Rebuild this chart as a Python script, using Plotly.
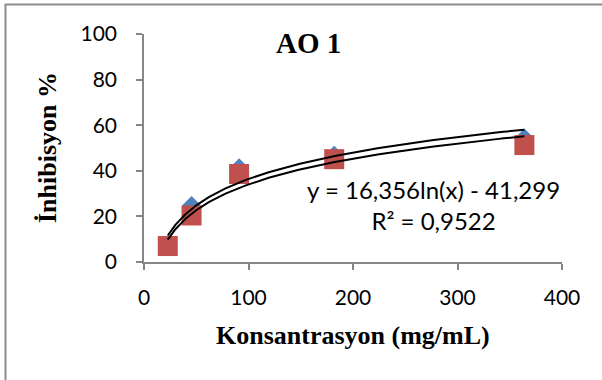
import numpy as np
import plotly.graph_objects as go

# Data
konsantrasyon = [22.75, 45.5, 91, 182, 364]
seri_mavi = [7.3, 24.7, 41.2, 46.7, 54.3]
seri_kirmizi = [7.0, 20.4, 38.6, 45.1, 51.3]
x_ticks = [0, 100, 200, 300, 400]
y_ticks = [0, 20, 40, 60, 80, 100]
chart_title = "AO 1"
x_title = "Konsantrasyon (mg/mL)"
y_title = "İnhibisyon %"
equation_text = "y = 16,356ln(x) - 41,299<br>R² = 0,9522"

BLUE = "#4F81BD"
RED = "#C0504D"
GRAY = "#868686"

# plot area in pixels
L, R, T, B = 144, 562, 34, 262
W, H = 602, 380

def px(xp):
    return (xp - L) / (R - L)

def py(yp):
    return (B - yp) / (B - T)

fig = go.Figure()
fig.add_trace(go.Scatter(x=konsantrasyon, y=seri_mavi, mode="markers",
                         marker=dict(symbol="diamond", size=15, color=BLUE),
                         showlegend=False, cliponaxis=False))
fig.add_trace(go.Scatter(x=konsantrasyon, y=seri_kirmizi, mode="markers",
                         marker=dict(symbol="square", size=20, color=RED),
                         showlegend=False, cliponaxis=False))

# logarithmic trendlines fitted to each series
xs = np.array(konsantrasyon, dtype=float)
xl = np.geomspace(xs.min(), xs.max(), 200)
for ys in (seri_mavi, seri_kirmizi):
    a, b = np.polyfit(np.log(xs), np.array(ys, dtype=float), 1)
    fig.add_trace(go.Scatter(x=xl, y=a * np.log(xl) + b, mode="lines",
                             line=dict(color="black", width=2),
                             showlegend=False, hoverinfo="skip"))

axis_common = dict(showgrid=False, zeroline=False, showline=True, linecolor=GRAY,
                   linewidth=1.5, ticks="outside", ticklen=6, tickcolor=GRAY,
                   tickwidth=1.5, tickfont=dict(family="Lato", size=21, color="black"))

fig.update_layout(
    width=W, height=H,
    margin=dict(l=L, r=W - R, t=T, b=H - B),
    paper_bgcolor="white", plot_bgcolor="white",
    xaxis=dict(range=[0, 400], tickvals=x_ticks, ticklabelstandoff=10, **axis_common),
    yaxis=dict(range=[0, 100], tickvals=y_ticks, ticklabelstandoff=15, **axis_common),
    annotations=[
        dict(text=chart_title, xref="paper", yref="paper", x=px(308), y=py(43),
             xanchor="center", yanchor="middle", showarrow=False,
             font=dict(family="Liberation Serif", size=29, color="black", weight="bold")),
        dict(text=x_title, xref="paper", yref="paper", x=px(353), y=py(335),
             xanchor="center", yanchor="middle", showarrow=False,
             font=dict(family="Liberation Serif", size=26, color="black", weight="bold")),
        dict(text=y_title, xref="paper", yref="paper", x=px(47), y=py(148),
             xanchor="center", yanchor="middle", showarrow=False, textangle=-90,
             font=dict(family="Liberation Serif", size=26, color="black", weight="bold")),
        dict(text=equation_text, xref="paper", yref="paper", x=px(433), y=py(205),
             xanchor="center", yanchor="middle", showarrow=False, align="center",
             font=dict(family="Lato", size=24, color="black")),
    ],
    shapes=[
        dict(type="line", xref="paper", yref="paper", x0=px(5.5), x1=px(5.5),
             y0=py(4.5), y1=py(381), line=dict(color="#8c8c8c", width=2)),
        dict(type="line", xref="paper", yref="paper", x0=px(4.5), x1=px(603),
             y0=py(4.5), y1=py(4.5), line=dict(color="#8c8c8c", width=2)),
    ],
)

fig.write_html("out.html", config={"displayModeBar": False},
               post_script="document.body.style.margin='0';")
